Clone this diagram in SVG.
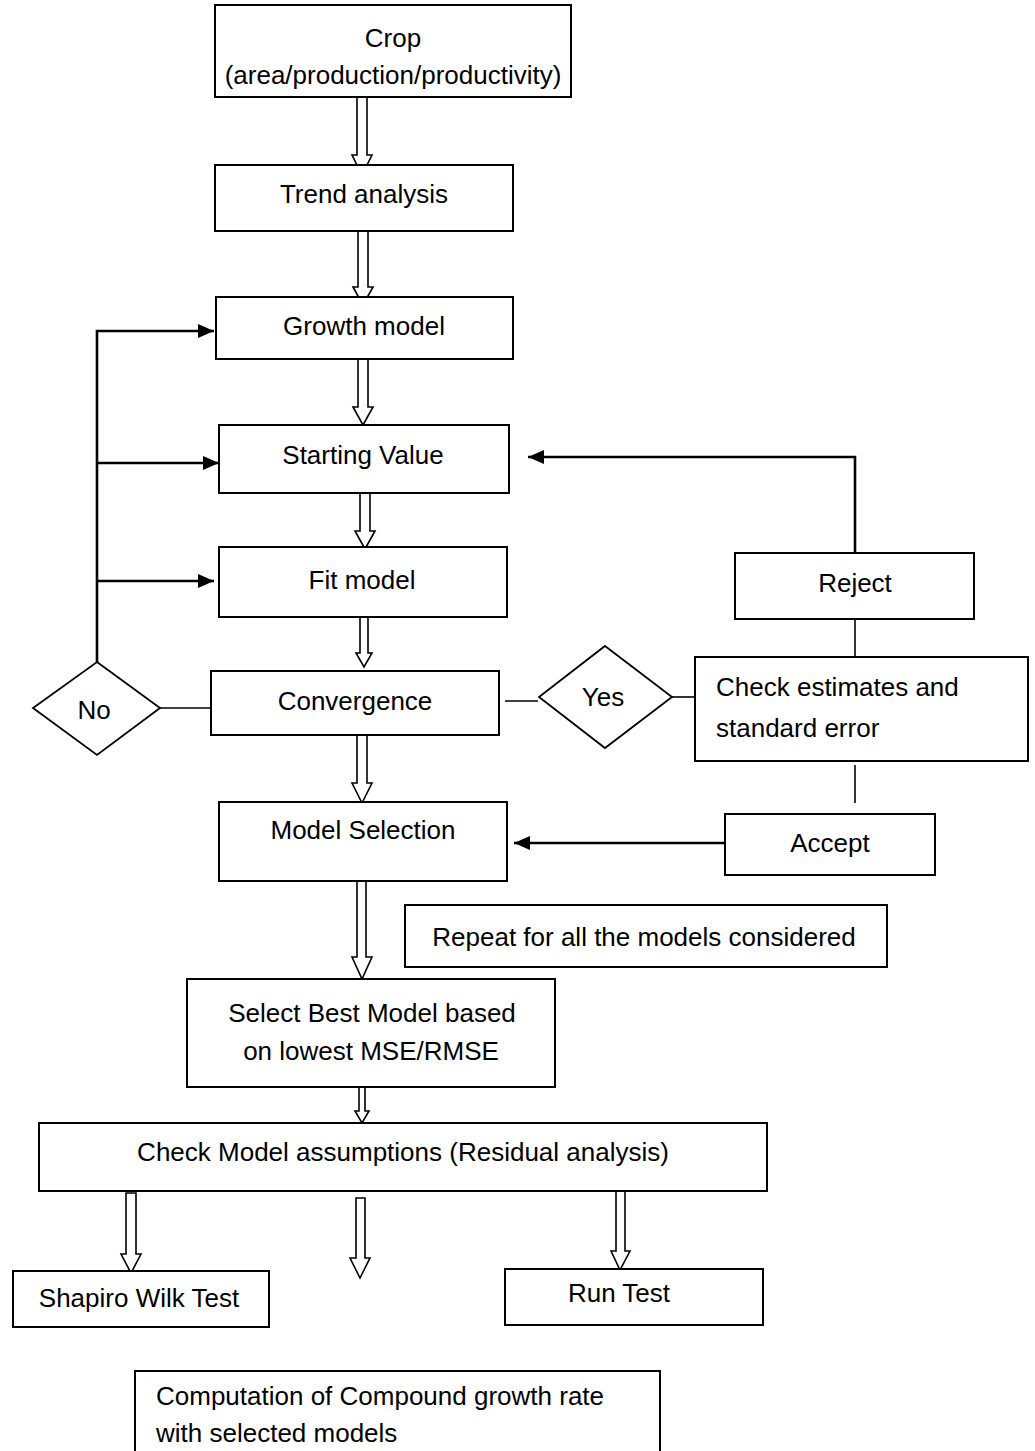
<svg xmlns="http://www.w3.org/2000/svg" width="1035" height="1451" viewBox="0 0 1035 1451">
<style>
.box{fill:#fff;stroke:#000;stroke-width:2}
.dia{fill:#fff;stroke:#000;stroke-width:1.8}
.t{font-family:"Liberation Sans",Arial,sans-serif;font-size:26px;fill:#000;text-anchor:middle}
.tl{font-family:"Liberation Sans",Arial,sans-serif;font-size:26px;fill:#000;text-anchor:start}
.blk{fill:#fff;stroke:#000;stroke-width:1.6;stroke-linejoin:miter}
.ln{fill:none;stroke:#000;stroke-width:1.6}
.la{fill:none;stroke:#000;stroke-width:2.6}
</style>
<defs>
<marker id="ah2" viewBox="0 0 16 14" refX="16" refY="7" markerWidth="16" markerHeight="14" markerUnits="userSpaceOnUse" orient="auto">
<path d="M0,0 L16,7 L0,14 z" fill="#000"/>
</marker>
</defs>

<g id="connectors">
<!-- block arrows -->
<polygon class="blk" points="357,97 367,97 367,155 372,155 362,175 352,155 357,155"/>
<polygon class="blk" points="358,231 368,231 368,287 373,287 363,305 353,287 358,287"/>
<polygon class="blk" points="358,359 368,359 368,407 373,407 363,425 353,407 358,407"/>
<polygon class="blk" points="360,493 370,493 370,531 375,531 365,549 355,531 360,531"/>
<polygon class="blk" points="360,617 368,617 368,653 372,653 364,667 356,653 360,653"/>
<polygon class="blk" points="357,735 367,735 367,783 372,783 362,803 352,783 357,783"/>
<polygon class="blk" points="357,881 366,881 366,957 372,957 362,979 352,957 357,957"/>
<polygon class="blk" points="359,1087 365,1087 365,1111 369,1111 362,1123 355,1111 359,1111"/>
<polygon class="blk" points="126,1193 136,1193 136,1254 141,1254 131,1273 121,1254 126,1254"/>
<polygon class="blk" points="356,1198 365,1198 365,1258 370,1258 360,1278 350,1258 356,1258"/>
<polygon class="blk" points="616,1191 625,1191 625,1251 630,1251 620,1270 611,1251 616,1251"/>
<!-- No loop -->
<path class="la" d="M97,662 L97,331 L214,331" marker-end="url(#ah2)"/>
<path class="la" d="M97,463 L219,463" marker-end="url(#ah2)"/>
<path class="la" d="M97,581 L214,581" marker-end="url(#ah2)"/>
<path class="ln" d="M160,708 L211,708"/>
<!-- Yes -->
<path class="ln" d="M505,701 L538,701"/>
<path class="ln" d="M672,697 L697,697"/>
<!-- Reject loop -->
<path class="la" d="M855,553 L855,457 L528,457" marker-end="url(#ah2)"/>
<path class="ln" d="M855,619 L855,671"/>
<path class="ln" d="M855,765 L855,803"/>
<path class="la" d="M725,843 L514,843" marker-end="url(#ah2)"/>
</g>

<g id="crop"><rect class="box" x="215" y="5" width="356" height="92"/>
<text class="t" x="393" y="47">Crop</text>
<text class="t" x="393" y="84">(area/production/productivity)</text></g>
<g id="trend"><rect class="box" x="215" y="165" width="298" height="66"/>
<text class="t" x="364" y="203">Trend analysis</text></g>
<g id="growth"><rect class="box" x="216" y="297" width="297" height="62"/>
<text class="t" x="364" y="335">Growth model</text></g>
<g id="starting"><rect class="box" x="219" y="425" width="290" height="68"/>
<text class="t" x="363" y="464">Starting Value</text></g>
<g id="fit"><rect class="box" x="219" y="547" width="288" height="70"/>
<text class="t" x="362" y="589">Fit model</text></g>
<g id="no"><polygon class="dia" points="97,662 160,708 97,755 33,708"/>
<text class="t" x="94" y="719">No</text></g>
<g id="convergence"><rect class="box" x="211" y="671" width="288" height="64"/>
<text class="t" x="355" y="710">Convergence</text></g>
<g id="yes"><polygon class="dia" points="605,646 672,697 605,748 539,697"/>
<text class="t" x="603" y="706">Yes</text></g>
<g id="reject"><rect class="box" x="735" y="553" width="239" height="66"/>
<text class="t" x="855" y="592">Reject</text></g>
<g id="check-est"><rect class="box" x="695" y="657" width="333" height="104"/>
<text class="tl" x="716" y="696">Check estimates and</text>
<text class="tl" x="716" y="737">standard error</text></g>
<g id="accept"><rect class="box" x="725" y="814" width="210" height="61"/>
<text class="t" x="830" y="852">Accept</text></g>
<g id="model-selection"><rect class="box" x="219" y="802" width="288" height="79"/>
<text class="t" x="363" y="839">Model Selection</text></g>
<g id="repeat"><rect class="box" x="405" y="905" width="482" height="62"/>
<text class="t" x="644" y="946">Repeat for all the models considered</text></g>
<g id="select-best"><rect class="box" x="187" y="979" width="368" height="108"/>
<text class="t" x="372" y="1022">Select Best Model based</text>
<text class="t" x="371" y="1060">on lowest MSE/RMSE</text></g>
<g id="check-model"><rect class="box" x="39" y="1123" width="728" height="68"/>
<text class="t" x="403" y="1161">Check Model assumptions (Residual analysis)</text></g>
<g id="shapiro"><rect class="box" x="13" y="1271" width="256" height="56"/>
<text class="t" x="139" y="1307">Shapiro Wilk Test</text></g>
<g id="run-test"><rect class="box" x="505" y="1269" width="258" height="56"/>
<text class="t" x="619" y="1302">Run Test</text></g>
<g id="computation"><rect class="box" x="135" y="1371" width="525" height="90"/>
<text class="tl" x="156" y="1405">Computation of Compound growth rate</text>
<text class="tl" x="156" y="1442">with selected models</text></g>
</svg>
